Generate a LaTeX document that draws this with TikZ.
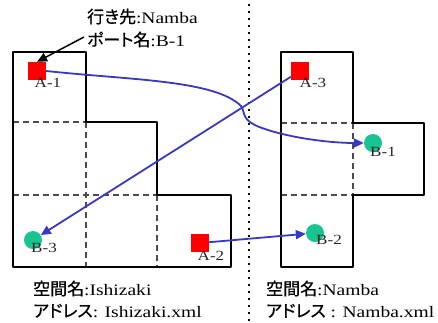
\documentclass[tikz,border=0pt]{standalone}
\usepackage{fontspec}
\setmainfont{Liberation Serif}[FakeStretch=1.22]
\newfontfamily\jp{Noto Sans CJK JP}[RawFeature=+palt, FakeBold=0.6]
\usetikzlibrary{arrows.meta}
\definecolor{arrowblue}{RGB}{55,55,200}
\definecolor{portgreen}{RGB}{26,196,146}
\begin{document}
\begin{tikzpicture}[x=1pt,y=-1pt,
  wall/.style={line width=2.2pt, line join=round},
  gridline/.style={line width=1.2pt, black!70, dash pattern=on 6pt off 4pt},
  sep/.style={line width=2pt, line cap=butt, dash pattern=on 2pt off 5pt},
  portA/.style={fill=red, draw=none, minimum size=18pt, inner sep=0pt},
  portB/.style={circle, fill=portgreen, draw=none, minimum size=18pt, inner sep=0pt},
  lbl/.style={font=\fontsize{14}{16}\selectfont, text=black!85, inner sep=0pt},
  txt/.style={font=\fontsize{16}{18}\selectfont, inner sep=0pt, anchor=base west},
  link/.style={arrowblue, line width=1.8pt, -{Triangle[length=10pt,width=9pt]}},
  pointer/.style={black, line width=1.5pt, -{Triangle[length=10pt,width=9pt]}}]
\useasboundingbox (0,0) rectangle (438,322);
% left space
\draw[gridline] (13,122) -- (86,122);
\draw[gridline] (13,195) -- (157,195);
\draw[gridline] (86,122) -- (86,267);
\draw[gridline] (157,195) -- (157,267);
\draw[wall] (13,52) -- (86,52) -- (86,122) -- (157,122) -- (157,195) -- (231,195) -- (231,267) -- (13,267) -- cycle;
% right space
\draw[gridline] (281,123) -- (353,123);
\draw[gridline] (353,123) -- (353,195);
\draw[gridline] (281,195) -- (353,195);
\draw[wall] (281,52) -- (353,52) -- (353,123) -- (424,123) -- (424,195) -- (353,195) -- (353,267) -- (281,267) -- cycle;
% separator
\draw[sep] (249,4) -- (249,322);
% ports
\node[portA] (A1) at (37,71) {};
\node[portA] (A3) at (300,71) {};
\node[portA] (A2) at (200,243) {};
\node[portB] (B1) at (373,143) {};
\node[portB] (B3) at (33,240) {};
\node[portB] (B2) at (315,233) {};
\node[lbl] (lA1) at (48,83) {A-1};
\node[lbl] (lA3) at (313,83) {A-3};
\node[lbl] (lA2) at (211,256) {A-2};
\node[lbl] (lB1) at (383,152) {B-1};
\node[lbl] (lB3) at (44,248) {B-3};
\node[lbl] (lB2) at (329,240) {B-2};
% links
\coordinate (k1) at (241,106);
\coordinate (k2) at (262,128);
\draw[link] (A1.east) .. controls (130,80) and (215,80) .. (k1)
  .. controls (246,113) and (240,120) .. (k2)
  .. controls (290,138) and (330,143) .. (B1);
\draw[link] (A3) -- (B3);
\draw[link] (A2) -- (B2);
% note
\node[txt] (n1) at (87,23) {{\fontsize{17}{18}\jp 行き先}:Namba};
\node[txt] (n2) at (87,46) {{\fontsize{17}{18}\jp ポート名}:B-1};
\coordinate (note) at (84,37);
\draw[pointer] (note) -- (A1.north);
% space names
\node[txt] (s1) at (33,295) {{\fontsize{17}{18}\jp 空間名}:Ishizaki};
\node[txt] (s2) at (33,317) {{\fontsize{17}{18}\jp アドレス}: Ishizaki.xml};
\node[txt] (s3) at (266,295) {{\fontsize{17}{18}\jp 空間名}:Namba};
\node[txt] (s4) at (266,317) {{\fontsize{17}{18}\jp アドレス} : Namba.xml};
\end{tikzpicture}
\end{document}
